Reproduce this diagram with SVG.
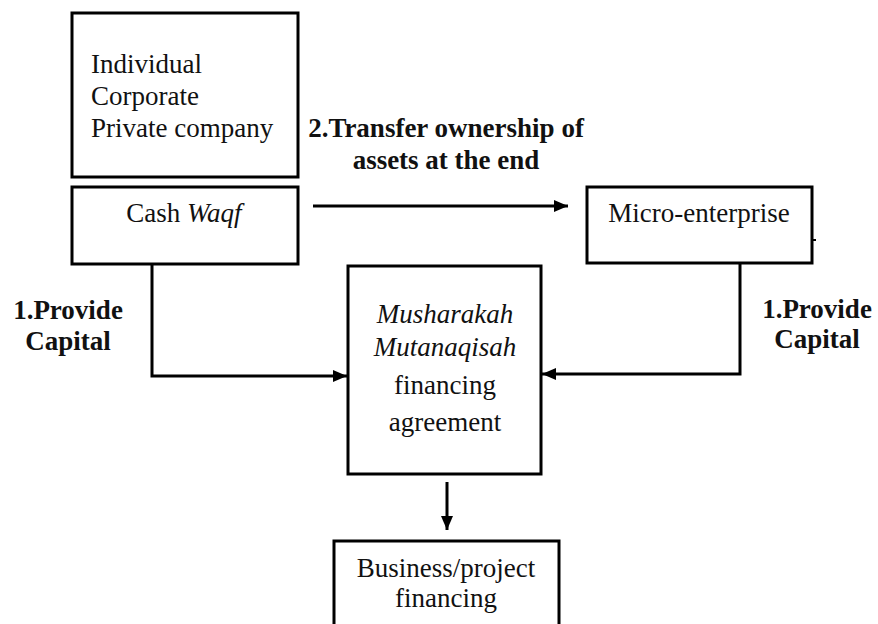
<svg xmlns="http://www.w3.org/2000/svg" width="878" height="624" viewBox="0 0 878 624">
<style>
.box{fill:#fff;stroke:#000;stroke-width:3}
.t{font-family:"Liberation Serif","Times New Roman",serif;font-size:27px;fill:#111}
.b{font-family:"Liberation Serif","Times New Roman",serif;font-size:27px;font-weight:bold;fill:#111;text-anchor:middle}
.c{text-anchor:middle}
.i{font-style:italic}
.ln{fill:none;stroke:#000;stroke-width:3}
</style>
<defs>
<marker id="ah" viewBox="0 0 14 12" refX="14" refY="6" markerWidth="14" markerHeight="12" markerUnits="userSpaceOnUse" orient="auto">
<path d="M0,0 L14,6 L0,12 Z" fill="#000"/>
</marker>
</defs>
<rect width="878" height="624" fill="#fff"/>
<g id="sources">
<rect class="box" x="72" y="13" width="226" height="164"/>
<text class="t" x="91" y="73">Individual</text>
<text class="t" x="91" y="105">Corporate</text>
<text class="t" x="91" y="137">Private company</text>
</g>
<g id="cash-waqf">
<rect class="box" x="72" y="187" width="226" height="77"/>
<text class="t c" x="184" y="222">Cash <tspan class="i">Waqf</tspan></text>
</g>
<g id="micro-enterprise">
<rect class="box" x="587" y="187" width="225" height="76"/>
<text class="t c" x="699" y="222">Micro-enterprise</text>
<line x1="812" y1="240" x2="816" y2="240" stroke="#000" stroke-width="2"/>
</g>
<g id="agreement">
<rect class="box" x="348" y="266" width="193" height="208"/>
<text class="t c i" x="445" y="323">Musharakah</text>
<text class="t c i" x="445" y="356">Mutanaqisah</text>
<text class="t c" x="445" y="394">financing</text>
<text class="t c" x="445" y="431">agreement</text>
</g>
<g id="business">
<rect class="box" x="334" y="541" width="225" height="90"/>
<text class="t c" x="446" y="577">Business/project</text>
<text class="t c" x="446" y="607">financing</text>
</g>
<g id="connectors">
<line class="ln" x1="313" y1="206" x2="568" y2="206" stroke-width="2" marker-end="url(#ah)"/>
<polyline class="ln" points="152,264 152,376 347,376" marker-end="url(#ah)"/>
<polyline class="ln" points="740,263 740,374 542,374" marker-end="url(#ah)"/>
<line class="ln" x1="447" y1="482" x2="447" y2="530" stroke-width="2.5" marker-end="url(#ah)"/>
</g>
<g id="labels">
<text class="b" x="446" y="137">2.Transfer ownership of</text>
<text class="b" x="446" y="169">assets at the end</text>
<text class="b" x="68" y="319">1.Provide</text>
<text class="b" x="68" y="350">Capital</text>
<text class="b" x="817" y="318">1.Provide</text>
<text class="b" x="817" y="348">Capital</text>
</g>
</svg>
